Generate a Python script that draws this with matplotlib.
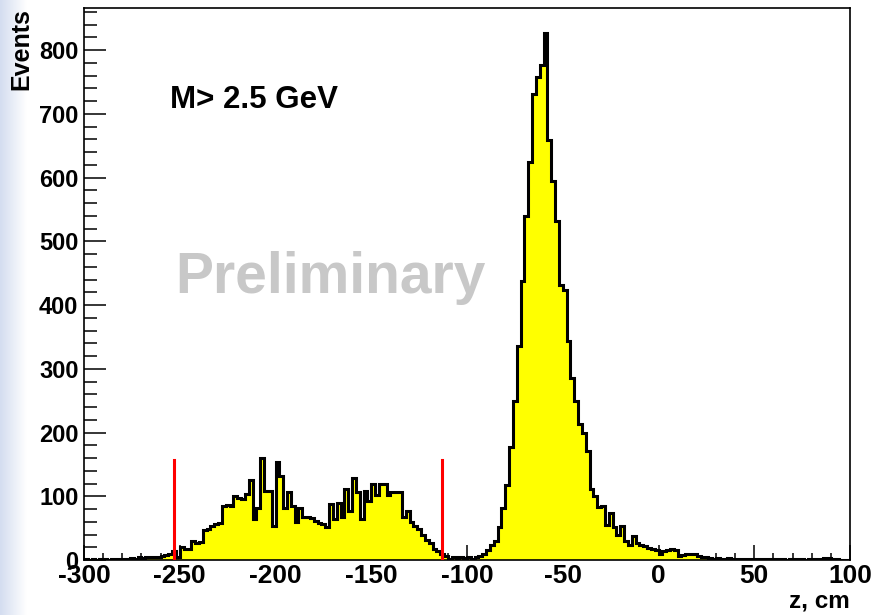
import numpy as np
import matplotlib
matplotlib.use('Agg')
import matplotlib.pyplot as plt
import matplotlib.ticker as ticker

# z histogram, 2 cm bins from -300 to 100
edges = np.arange(-300, 101, 2)
counts = [
    # -300 .. -262
    1, 0, 2, 0, 1, 1, 0, 1, 0, 1, 2, 1, 3, 2, 5, 3, 5, 4, 5, 4,
    # -260 .. -222
    7, 8, 9, 14, 4, 20, 18, 17, 30, 26, 28, 47, 48, 53, 56, 58, 85, 86, 84, 100,
    # -220 .. -182
    97, 95, 103, 125, 64, 82, 160, 108, 108, 53, 154, 132, 82, 106, 85, 59, 82, 68, 67, 66,
    # -180 .. -142
    61, 58, 56, 51, 88, 65, 89, 67, 111, 77, 128, 106, 64, 108, 92, 119, 102, 119, 119, 102,
    # -140 .. -102
    106, 106, 106, 68, 77, 60, 53, 48, 40, 32, 27, 18, 14, 10, 6, 2, 4, 3, 4, 3,
    # -100 .. -62
    4, 2, 5, 6, 9, 16, 24, 30, 52, 82, 117, 178, 249, 335, 437, 540, 625, 731, 758, 776,
    # -60 .. -22
    826, 659, 595, 532, 432, 424, 343, 286, 250, 214, 200, 171, 111, 101, 83, 85, 55, 74, 52, 40,
    # -20 .. 18
    54, 30, 24, 38, 27, 24, 22, 19, 17, 16, 10, 14, 15, 17, 16, 6, 8, 9, 10, 10,
    # 20 .. 58
    7, 5, 4, 3, 2, 3, 2, 2, 3, 2, 1, 2, 1, 1, 2, 1, 1, 2, 1, 1,
    # 60 .. 98
    1, 2, 1, 0, 1, 1, 1, 1, 0, 1, 1, 1, 2, 3, 3, 1, 1, 0, 0, 0,
]
cut_low = -253
cut_high = -113
cut_height = 157

plt.rcParams['font.family'] = ['Liberation Sans', 'DejaVu Sans']
plt.rcParams['font.weight'] = 'bold'

fig = plt.figure(figsize=(8.75, 6.15), dpi=100)

# light blue slide edge on the left
bg = fig.add_axes([0, 0, 0.03, 1])
grad = np.linspace(0, 1, 50)[None, :]
bg.imshow(grad, aspect='auto', cmap=matplotlib.colors.LinearSegmentedColormap.from_list(
    'edge', ['#d4ddf0', '#ffffff']), extent=[0, 1, 0, 1])
bg.axis('off')

ax = fig.add_axes([84 / 875, 1 - 560 / 615, 766 / 875, 552 / 615])
ax.stairs(counts, edges, fill=True, color='#ffff00', zorder=2)
ax.stairs(counts, edges, fill=False, color='black', linewidth=2.2, baseline=0, zorder=3)

ax.plot([cut_low, cut_low], [0, cut_height], color='#ff0000', linewidth=2.2, zorder=4)
ax.plot([cut_high, cut_high], [0, cut_height], color='#ff0000', linewidth=2.2, zorder=4)

ax.set_xlim(-300, 100)
ax.set_ylim(0, 866)
ax.xaxis.set_major_locator(ticker.MultipleLocator(50))
ax.xaxis.set_minor_locator(ticker.MultipleLocator(10))
ax.yaxis.set_major_locator(ticker.MultipleLocator(100))
ax.yaxis.set_minor_locator(ticker.MultipleLocator(20))
ax.xaxis.set_major_formatter(ticker.FuncFormatter(lambda v, p: '%d' % v))
ax.yaxis.set_major_formatter(ticker.FuncFormatter(lambda v, p: '%d' % v))
ax.tick_params(axis='both', which='both', direction='in', top=False, right=False, width=1.1)
ax.tick_params(axis='y', which='major', length=16, pad=4, labelsize=17)
ax.tick_params(axis='y', which='minor', length=9)
ax.tick_params(axis='x', which='major', length=11, pad=3, labelsize=19)
ax.tick_params(axis='x', which='minor', length=5)
for s in ax.spines.values():
    s.set_linewidth(1.2)
for lab in ax.get_xticklabels() + ax.get_yticklabels():
    lab.set_fontweight('bold')

fig.text(0.025, 0.987, 'Events', rotation=90, ha='center', va='top', fontsize=18, fontweight='bold')
fig.text(850 / 875, (615 - 601) / 615, 'z, cm', ha='right', va='center', fontsize=17.5, fontweight='bold')
ax.text(170 / 875, (615 - 108) / 615, 'M> 2.5 GeV', transform=fig.transFigure,
        fontsize=22.5, fontweight='bold', ha='left', va='baseline')
ax.text(175 / 875, (615 - 293) / 615, 'Preliminary', transform=fig.transFigure,
        fontsize=41, fontweight='bold', color='#c8c8c8', ha='left', va='baseline')

fig.savefig('out.png', dpi=100)
